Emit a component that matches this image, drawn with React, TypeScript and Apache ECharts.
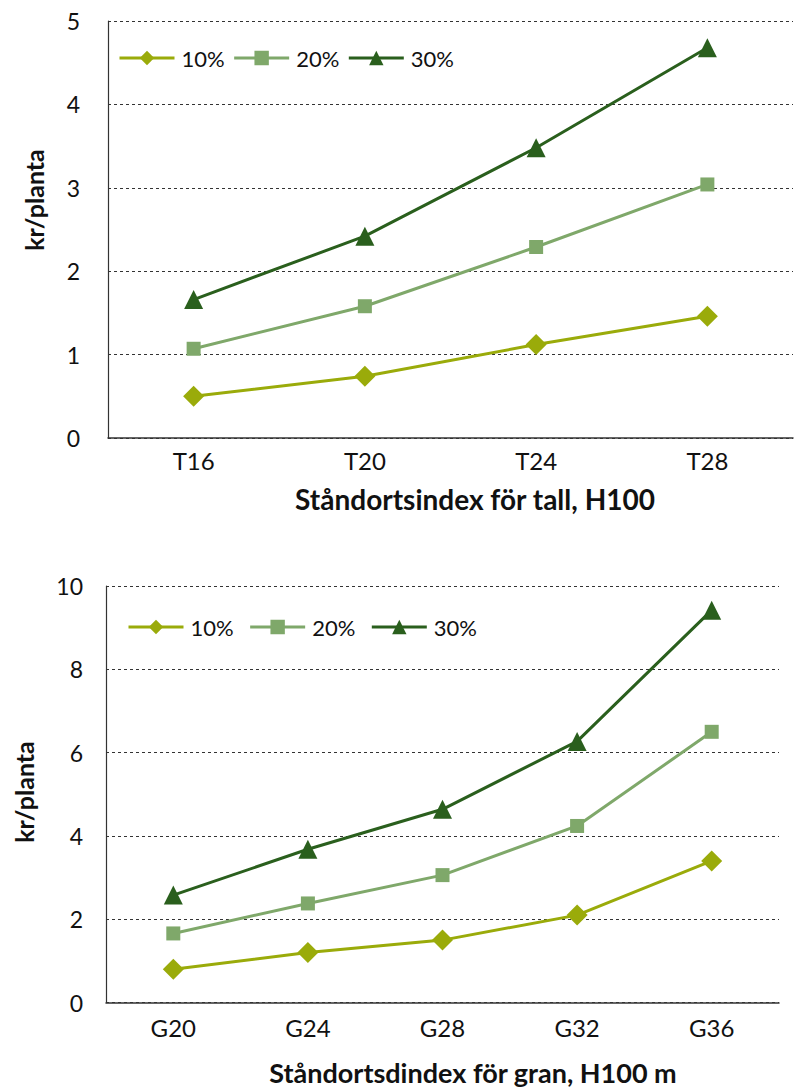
import React, { useEffect, useRef } from "react";
import * as echarts from "echarts";

const seriesNames = ["10%", "20%", "30%"];
const tallCategories = ["T16", "T20", "T24", "T28"];
const tall10 = [0.5, 0.74, 1.12, 1.46];
const tall20 = [1.07, 1.58, 2.29, 3.04];
const tall30 = [1.66, 2.42, 3.48, 4.68];
const granCategories = ["G20", "G24", "G28", "G32", "G36"];
const gran10 = [0.8, 1.2, 1.5, 2.1, 3.4];
const gran20 = [1.66, 2.38, 3.06, 4.24, 6.5];
const gran30 = [2.58, 3.68, 4.64, 6.27, 9.42];

const colors = ["#9aab0a", "#7fa86a", "#2a5f1d"];
const symbols = ["diamond", "rect", "triangle"];
const symbolSizes = [21, 14, 19];
const FONT = "Lato, 'Open Sans', sans-serif";

export default function App() {
  const ref = useRef<HTMLDivElement>(null);
  useEffect(() => {
    if (!ref.current) return;
    const chart = echarts.init(ref.current, null, { renderer: "svg" });
    const mkSeries = (data: number[], i: number, idx: number) => ({
      name: seriesNames[i],
      type: "line",
      xAxisIndex: idx,
      yAxisIndex: idx,
      data,
      symbol: symbols[i],
      symbolSize: symbolSizes[i],
      itemStyle: { color: colors[i] },
      lineStyle: { color: colors[i], width: 3 },
      z: 3 + i,
    });
    const yAx = (gi: number, max: number, interval: number, margin: number) => ({
      type: "value",
      gridIndex: gi,
      min: 0,
      max,
      interval,
      axisLine: { show: true, lineStyle: { color: "#333", width: 1.2 } },
      axisTick: { show: false },
      axisLabel: { fontFamily: FONT, fontSize: 23, color: "#111", margin },
      splitLine: { show: true, lineStyle: { color: "#333", type: [3, 3], width: 1 } },
    });
    const xAx = (gi: number, data: string[], margin: number) => ({
      type: "category",
      gridIndex: gi,
      data,
      boundaryGap: true,
      axisLine: { show: true, lineStyle: { color: "#333", width: 1.5 } },
      axisTick: { show: false },
      axisLabel: { fontFamily: FONT, fontSize: 24, color: "#111", margin },
    });
    const legendCommon = {
      data: seriesNames,
      orient: "horizontal",
      padding: 0,
      itemWidth: 55,
      itemHeight: 18,
      lineStyle: { width: 3 },
      textStyle: { fontFamily: FONT, fontSize: 22, color: "#111", padding: [0, 0, 0, 2] },
    };
    const titleStyle = { fontFamily: FONT, fontSize: 28, fontWeight: "bold", fill: "#111", align: "center", verticalAlign: "middle" };
    chart.setOption({
      animation: false,
      backgroundColor: "#fff",
      grid: [
        { left: 100, top: 13, width: 685, height: 417, containLabel: false },
        { left: 98, top: 578, width: 673, height: 416.6, containLabel: false },
      ],
      xAxis: [xAx(0, tallCategories, 10), xAx(1, granCategories, 13)],
      yAxis: [yAx(0, 5, 1, 28), yAx(1, 10, 2, 23)],
      legend: [
        { ...legendCommon, left: 110, top: 39, itemGap: 8 },
        { ...legendCommon, left: 119, top: 608, itemGap: 15 },
      ],
      graphic: [
        { type: "text", x: 26, y: 192, rotation: Math.PI / 2, style: { ...titleStyle, fontSize: 25, text: "kr/planta" } },
        { type: "text", x: 16, y: 784, rotation: Math.PI / 2, style: { ...titleStyle, fontSize: 25, text: "kr/planta" } },
        { type: "text", x: 467, y: 491, style: { ...titleStyle, text: "Ståndortsindex för tall, H100" } },
        { type: "text", x: 465, y: 1064, style: { ...titleStyle, fontSize: 27, text: "Ståndortsdindex för gran, H100 m" } },
      ],
      series: [
        mkSeries(tall10, 0, 0),
        mkSeries(tall20, 1, 0),
        mkSeries(tall30, 2, 0),
        mkSeries(gran10, 0, 1),
        mkSeries(gran20, 1, 1),
        mkSeries(gran30, 2, 1),
      ],
    });
    return () => chart.dispose();
  }, []);
  return <div ref={ref} style={{ width: 805, height: 1090 }} />;
}
